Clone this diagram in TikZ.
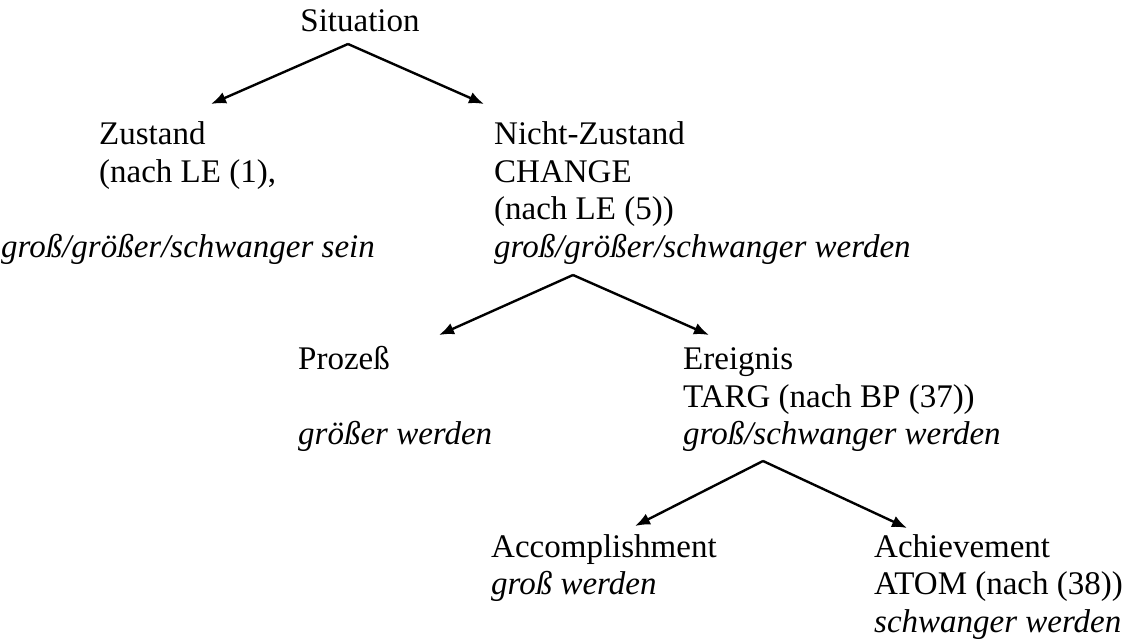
\documentclass[tikz,border=0pt]{standalone}
\usepackage{fontspec}
\setmainfont{Liberation Serif}
\usetikzlibrary{arrows.meta}

\begin{document}
\begin{tikzpicture}[x=1pt, y=-1pt,
    lbl/.style={anchor=base west, inner sep=0pt, font=\fontsize{33}{38}\selectfont},
    ex/.style={lbl, font=\fontsize{33}{38}\selectfont\itshape},
    branch/.style={line width=2.4pt, -{Latex[length=15pt,width=12pt]}}]
    \useasboundingbox (0,0) rectangle (1132,642);

    % Top
    \node[lbl, anchor=base] (sit) at (360,32) {Situation};

    % Zustand / Nicht-Zustand
    \node[lbl] (zust) at (99,144.5) {Zustand};
    \node[lbl] (zustLE) at (99,182) {(nach LE (1),};
    \node[ex] (zustEx) at (1,257) {groß/größer/schwanger sein};

    \node[lbl] (nzust) at (494,144.5) {Nicht-Zustand};
    \node[lbl] (nzustCh) at (494,182) {CHANGE};
    \node[lbl] (nzustLE) at (494,219.5) {(nach LE (5))};
    \node[ex] (nzustEx) at (494,257) {groß/größer/schwanger werden};

    % Prozess / Ereignis
    \node[lbl] (proz) at (298,369.5) {Prozeß};
    \node[ex] (prozEx) at (298,444.5) {größer werden};

    \node[lbl] (ereig) at (683,369.5) {Ereignis};
    \node[lbl] (ereigT) at (683,407) {TARG (nach BP (37))};
    \node[ex] (ereigEx) at (683,444.5) {groß/schwanger werden};

    % Accomplishment / Achievement
    \node[lbl] (accom) at (491,557) {Accomplishment};
    \node[ex] (accomEx) at (491,594.5) {groß werden};

    \node[lbl] (achiev) at (874,557) {Achievement};
    \node[lbl] (achievA) at (874,594.5) {ATOM (nach (38))};
    \node[ex] (achievEx) at (874,632) {schwanger werden};

    % Branch points
    \coordinate (sitTop) at (348,44);
    \coordinate (zustTip) at (211,104);
    \coordinate (nzustTip) at (484,104);
    \coordinate (nzustTop) at (573,275);
    \coordinate (prozTip) at (439,335);
    \coordinate (ereigTip) at (709,335);
    \coordinate (ereigTop) at (763,461);
    \coordinate (accomTip) at (635,526);
    \coordinate (achievTip) at (907,528);

    \draw[branch] (sitTop) -- (zustTip);
    \draw[branch] (sitTop) -- (nzustTip);
    \draw[branch] (nzustTop) -- (prozTip);
    \draw[branch] (nzustTop) -- (ereigTip);
    \draw[branch] (ereigTop) -- (accomTip);
    \draw[branch] (ereigTop) -- (achievTip);
\end{tikzpicture}
\end{document}
